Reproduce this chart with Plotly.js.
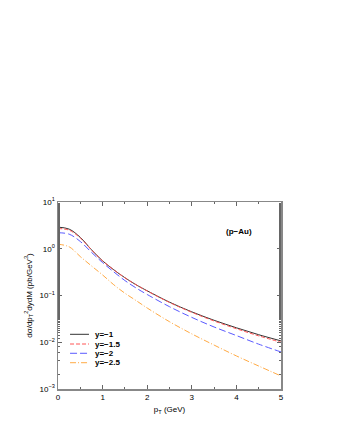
<!DOCTYPE html>
<html>
<head>
<meta charset="utf-8">
<script src="https://cdn.plot.ly/plotly-3.0.1.min.js"></script>
<style>
  html, body { margin: 0; padding: 0; background: #fff; }
  #chart { width: 340px; height: 440px; }
</style>
</head>
<body>
<div id="chart"></div>
<script>
// pT grid (GeV)
const pt = [0, 0.25, 0.5, 0.75, 1.0, 1.25, 1.5, 1.75, 2.0, 2.5, 3.0, 3.5, 4.0, 4.5, 5.0];

// dσ/dpT^2 dy dM (pb/GeV^3)
const yMinus1   = [2.9, 2.63, 1.75, 0.955, 0.55, 0.355, 0.24, 0.17, 0.126, 0.072, 0.0447, 0.0295, 0.0204, 0.0145, 0.0107];
const yMinus1p5 = [2.7, 2.5, 1.7, 0.95, 0.55, 0.355, 0.24, 0.17, 0.125, 0.071, 0.0437, 0.0285, 0.0195, 0.0137, 0.0100];
const yMinus2   = [2.2, 2.05, 1.43, 0.84, 0.505, 0.32, 0.209, 0.145, 0.105, 0.0576, 0.034, 0.0212, 0.0139, 0.0091, 0.0062];
const yMinus2p5 = [1.25, 1.1, 0.68, 0.43, 0.275, 0.17, 0.112, 0.078, 0.054, 0.0275, 0.0151, 0.0087, 0.0051, 0.0031, 0.0019];

const seriesNames = ['y=−1', 'y=−1.5', 'y=−2', 'y=−2.5'];

const yTickVals = [0.001, 0.01, 0.1, 1, 10];
const yTickText = ['10<sup>−3</sup>', '10<sup>−2</sup>', '10<sup>−1</sup>', '10<sup>0</sup>', '10<sup>1</sup>'];

const font = 'Liberation Sans, Arial, sans-serif';

const lineStyles = [
    { color: '#333333', width: 1, dash: 'solid', shape: 'spline' },
    { color: '#ff5555', width: 1, dash: '4px,2px', shape: 'spline' },
    { color: '#5a5aff', width: 1, dash: '7px,3px', shape: 'spline' },
    { color: '#ffaa44', width: 1, dash: '6px,2px,1px,2px', shape: 'spline' }
];

const allY = [yMinus1, yMinus1p5, yMinus2, yMinus2p5];
const traces = allY.map((y, i) => ({
    x: pt, y: y, name: seriesNames[i], mode: 'lines', line: lineStyles[i]
}));

// hand-made legend, compact rows like the original
const legendRows = [0.2925, 0.2406, 0.191, 0.1406];
const shapes = [];
const annotations = [
    { x: 0.81, y: 0.84, xref: 'paper', yref: 'paper', xanchor: 'center', yanchor: 'middle',
      text: '(p−Au)', showarrow: false, font: { family: font, size: 8, weight: 'bold' } }
];
seriesNames.forEach((name, i) => {
    shapes.push({
        type: 'line', xref: 'paper', yref: 'paper',
        x0: 0.054, x1: 0.139, y0: legendRows[i], y1: legendRows[i],
        line: { color: lineStyles[i].color, width: 1, dash: lineStyles[i].dash }
    });
    annotations.push({
        x: 0.157, y: legendRows[i], xref: 'paper', yref: 'paper', xanchor: 'left', yanchor: 'middle',
        text: name, showarrow: false, font: { family: font, size: 8, weight: 'bold' }
    });
});

const axisLine = { showline: true, linecolor: '#888', linewidth: 1.5, mirror: 'allticks', ticks: 'inside', ticklen: 4, tickcolor: '#666', showgrid: false, zeroline: false };

const layout = {
    width: 340,
    height: 440,
    margin: { l: 58, r: 59, t: 202, b: 51 },
    paper_bgcolor: '#fff',
    plot_bgcolor: '#fff',
    font: { family: font, size: 8, color: '#000' },
    showlegend: false,
    xaxis: Object.assign({}, axisLine, {
        range: [0, 5],
        tickvals: [0, 1, 2, 3, 4, 5],
        minor: { dtick: 0.5, ticks: 'inside', ticklen: 2, tickcolor: '#666' },
        title: { text: 'p<sub>T</sub> (GeV)', font: { family: font, size: 8 }, standoff: 5 }
    }),
    yaxis: Object.assign({}, axisLine, {
        type: 'log',
        range: [-3, 1],
        tickvals: yTickVals,
        ticktext: yTickText,
        minor: { ticks: 'inside', ticklen: 2, tickcolor: '#666' },
        title: { text: 'dσ/dp<sub>T</sub><sup>2</sup>dydM (pb/GeV<sup>3</sup>)', font: { family: font, size: 8 }, standoff: 6 }
    }),
    shapes: shapes,
    annotations: annotations
};

Plotly.newPlot('chart', traces, layout, { displayModeBar: false, staticPlot: true });
</script>
</body>
</html>
